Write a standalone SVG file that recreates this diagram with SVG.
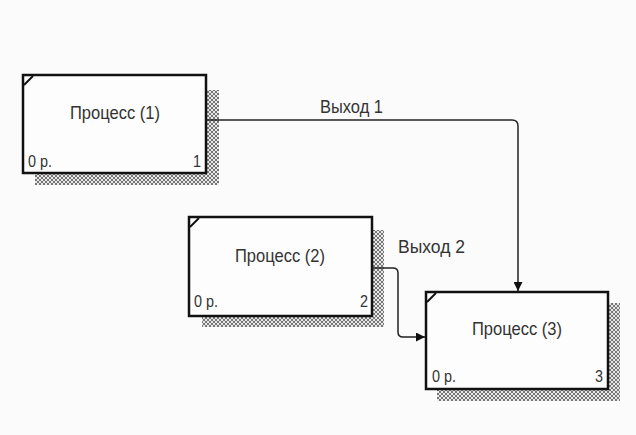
<svg xmlns="http://www.w3.org/2000/svg" width="636" height="435" viewBox="0 0 636 435">
<style>
.box{fill:#fdfdfd;stroke:#111;stroke-width:2.5}
.corner{stroke:#111;stroke-width:2;fill:none}
.shadow{fill:url(#hatch)}
.t{font-family:"Liberation Sans",Arial,sans-serif;fill:#333}
.title{font-size:18.5px;text-anchor:middle}
.small{font-size:17px}
.lbl{font-size:17.5px}
.conn{fill:none;stroke:#222;stroke-width:1.5}
</style>
<defs>
<pattern id="hatch" width="4" height="4" patternUnits="userSpaceOnUse">
<rect width="4" height="4" fill="#e8e8e8"/>
<path d="M0 0L4 4M4 0L0 4" stroke="#777" stroke-width="1"/>
</pattern>
<marker id="arr" viewBox="0 0 10 10" refX="10" refY="5" markerWidth="9" markerHeight="9" markerUnits="userSpaceOnUse" orient="auto">
<path d="M0 0L10 5L0 10Z" fill="#111"/>
</marker>
</defs>
<rect width="636" height="435" fill="#fbfbfb"/>
<g id="node1">
<path class="shadow" d="M207 90H219V185H35V174H207Z"/>
<rect class="box" x="23" y="75" width="183" height="98"/>
<path class="corner" d="M24 85L33 76"/>
<text class="t title" x="115" y="119" textLength="90" lengthAdjust="spacingAndGlyphs">Процесс (1)</text>
<text class="t small" x="28" y="167" textLength="24" lengthAdjust="spacingAndGlyphs">0 р.</text>
<text class="t small" x="201" y="167" text-anchor="end" textLength="8" lengthAdjust="spacingAndGlyphs">1</text>
</g>
<g id="node2">
<path class="shadow" d="M373 230H384V327H202V317H373Z"/>
<rect class="box" x="189" y="217" width="183" height="99"/>
<path class="corner" d="M190 227L199 218"/>
<text class="t title" x="280" y="262" textLength="90" lengthAdjust="spacingAndGlyphs">Процесс (2)</text>
<text class="t small" x="194" y="307" textLength="24" lengthAdjust="spacingAndGlyphs">0 р.</text>
<text class="t small" x="368" y="307" text-anchor="end" textLength="8" lengthAdjust="spacingAndGlyphs">2</text>
</g>
<g id="node3">
<path class="shadow" d="M609 303H620V401H437V390H609Z"/>
<rect class="box" x="426" y="292" width="182" height="97"/>
<path class="corner" d="M427 302L436 293"/>
<text class="t title" x="517" y="335" textLength="90" lengthAdjust="spacingAndGlyphs">Процесс (3)</text>
<text class="t small" x="432" y="382" textLength="24" lengthAdjust="spacingAndGlyphs">0 р.</text>
<text class="t small" x="603" y="382" text-anchor="end" textLength="8" lengthAdjust="spacingAndGlyphs">3</text>
</g>
<g id="connectors">
<path class="conn" d="M206 120H512Q518 120 518 126V291" marker-end="url(#arr)"/>
<path class="conn" d="M372 268H393Q398 268 398 273V332Q398 337 403 337H425" marker-end="url(#arr)"/>
<text class="t lbl" x="320" y="113" textLength="63" lengthAdjust="spacingAndGlyphs">Выход 1</text>
<text class="t lbl" x="398" y="253" textLength="67" lengthAdjust="spacingAndGlyphs">Выход 2</text>
</g>
</svg>
